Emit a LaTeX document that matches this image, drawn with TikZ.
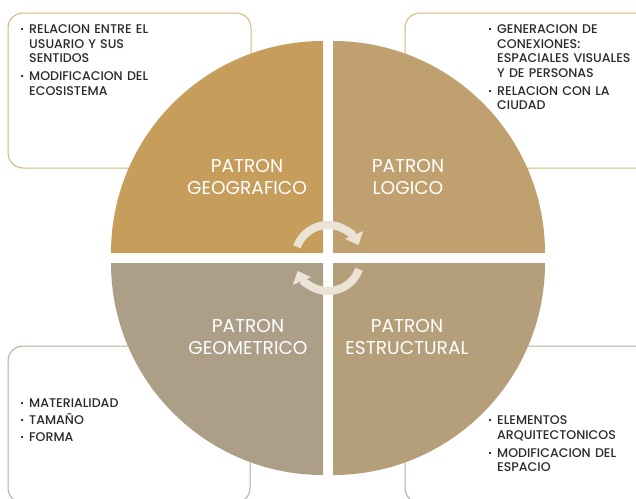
\documentclass[tikz,border=0pt]{standalone}
\usepackage{fontspec}
\setmainfont{Poppins}
\IfFontExistsTF{Poppins Medium}{\newfontfamily\boxfont{Poppins Medium}}{\newfontfamily\boxfont{Poppins}[FakeBold=0.4]}
\usetikzlibrary{arrows.meta}
\definecolor{cTL}{HTML}{C79D5C}
\definecolor{cTR}{HTML}{C0A06F}
\definecolor{cBL}{HTML}{AD9E88}
\definecolor{cBR}{HTML}{B59F7A}
\definecolor{bTop}{HTML}{D6B47E}
\definecolor{bBot}{HTML}{B9AA96}
\definecolor{txt}{HTML}{2A2A2A}
\definecolor{cream}{HTML}{ECE3D7}
\newcommand{\bitem}[1]{\par\hangindent=9pt\hangafter=1\noindent\makebox[9pt][l]{\raisebox{1pt}{\scalebox{0.7}{\textbullet}}}#1\par}
\tikzset{
  infobox/.style={draw, line width=1pt, rounded corners=15pt},
  lbl/.style={text=white, align=center, font=\fontsize{18.6}{21.5}\selectfont},
  boxtext/.style={text=txt, text width=170pt, inner sep=0pt, anchor=north west,
    font=\boxfont\fontsize{12.6}{14.5}\selectfont\raggedright},
  turn/.style={draw=cream, line width=8pt, -{Triangle[width=19pt,length=11pt]}}
}
\begin{document}
\begin{tikzpicture}[x=1pt,y=-1pt]
\useasboundingbox (0,0) rectangle (636,498);
\clip (0,0) rectangle (636,498);
% info boxes
\draw[infobox, draw=bTop] (8,13) rectangle (251,168);
\draw[infobox, draw=bTop] (405,13) rectangle (652,168);
\draw[infobox, draw=bBot] (8,346) rectangle (250,503);
\draw[infobox, draw=bBot] (405,346) rectangle (652,503);
% quadrants
\fill[cTL] (323,253) -- ++(-212,0) arc[start angle=180, end angle=270, radius=212] -- cycle;
\fill[cTR] (333,253) -- ++(0,-212) arc[start angle=270, end angle=360, radius=212] -- cycle;
\fill[cBL] (323,263) -- ++(0,212) arc[start angle=90, end angle=180, radius=212] -- cycle;
\fill[cBR] (333,263) -- ++(212,0) arc[start angle=0, end angle=90, radius=212] -- cycle;
% labels
\node[lbl] (geo) at (247,177) {PATRON\\GEOGRAFICO};
\node[lbl] (log) at (408,177) {PATRON\\LOGICO};
\node[lbl] (gem) at (248,337) {PATRON\\GEOMETRICO};
\node[lbl] (est) at (407,337) {PATRON\\ESTRUCTURAL};
% cycle arrows
\draw[turn] (328,258) ++(200:33) arc[start angle=200, end angle=337, radius=33];
\draw[turn] (328,258) ++(20:33) arc[start angle=20, end angle=157, radius=33];
% box texts
\node[boxtext] (t1) at (20,19) {\bitem{RELACION ENTRE EL\newline USUARIO Y SUS\newline SENTIDOS}\vspace{3.5pt}\bitem{MODIFICACION DEL\newline ECOSISTEMA}};
\node[boxtext] (t2) at (488,19) {\bitem{GENERACION DE\newline CONEXIONES:\newline ESPACIALES VISUALES\newline Y DE PERSONAS}\vspace{3.5pt}\bitem{RELACION CON LA\newline CIUDAD}};
\node[boxtext] (t3) at (20,393) {\bitem{MATERIALIDAD}\vspace{2.5pt}\bitem{TAMAÑO}\vspace{2.5pt}\bitem{FORMA}};
\node[boxtext] (t4) at (488,410) {\bitem{ELEMENTOS\newline ARQUITECTONICOS}\vspace{3.5pt}\bitem{MODIFICACION DEL\newline ESPACIO}};
\end{tikzpicture}
\end{document}
